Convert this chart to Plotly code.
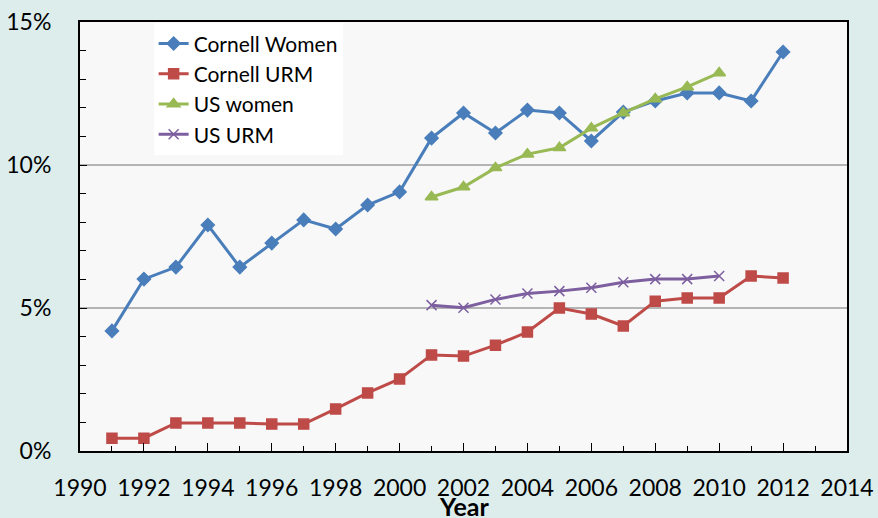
import plotly.graph_objects as go

years = list(range(1991, 2013))
cornell_women = [4.2, 6.01, 6.43, 7.9, 6.43, 7.27, 8.08, 7.76, 8.6, 9.06, 10.94,
                 11.82, 11.12, 11.92, 11.82, 10.84, 11.85, 12.24, 12.52, 12.52, 12.24, 13.95]
cornell_urm = [0.45, 0.45, 0.98, 0.98, 0.98, 0.94, 0.94, 1.47, 2.03, 2.52, 3.36,
               3.32, 3.7, 4.16, 5.0, 4.79, 4.37, 5.24, 5.35, 5.35, 6.12, 6.05]
us_years = list(range(2001, 2011))
us_women = [8.88, 9.23, 9.9, 10.38, 10.6, 11.29, 11.82, 12.31, 12.73, 13.22]
us_urm = [5.1, 5.01, 5.3, 5.51, 5.59, 5.71, 5.9, 6.01, 6.01, 6.12]

FONT = 'Lato, Calibri, "Open Sans", sans-serif'

series = [
    ('Cornell Women', years, cornell_women, '#4a7ebb', 'diamond', 10),
    ('Cornell URM', years, cornell_urm, '#be4b48', 'square', 10),
    ('US women', us_years, us_women, '#98b954', 'triangle-up', 11),
    ('US URM', us_years, us_urm, '#7d5fa0', 'x-thin-open', 10),
]

fig = go.Figure()
for name, x, y, color, symbol, size in series:
    fig.add_trace(go.Scatter(
        x=x, y=y, name=name, mode='lines+markers',
        legendgroup=name,
        line=dict(color=color, width=3),
        marker=dict(symbol=symbol, size=size, color=color,
                    line=dict(color=color, width=1.5)),
    ))

fig.update_layout(
    width=878, height=518,
    margin=dict(l=80, r=31, t=22, b=67),
    paper_bgcolor='#dcedec',
    plot_bgcolor='#f8f8f8',
    font=dict(family=FONT, size=23, color='black'),
    showlegend=True,
    legend=dict(
        x=0.096, y=0.997, xanchor='left', yanchor='top',
        bgcolor='white', font=dict(size=21),
        tracegroupgap=0, itemwidth=30,
    ),
    xaxis=dict(
        range=[1990, 2014], dtick=2, tick0=1990,
        ticks='inside', ticklen=8, tickcolor='black', tickwidth=1,
        minor=dict(ticks='inside', dtick=1, ticklen=5, tickcolor='black'),
        showgrid=False, zeroline=False,
        showline=True, linecolor='black', linewidth=2, mirror=True,
        ticklabelstandoff=15, automargin=False,
    ),
    yaxis=dict(
        range=[0, 15], dtick=5, ticksuffix='%',
        ticks='inside', ticklen=7, tickcolor='black',
        minor=dict(ticks='inside', dtick=1, ticklen=6, tickcolor='black'),
        showgrid=True, gridcolor='#b4b4b4', gridwidth=1.5,
        zeroline=False,
        showline=True, linecolor='black', linewidth=2, mirror=True,
        ticklabelstandoff=22, automargin=False,
    ),
    # axis title as annotation so it sits right under the tick labels
    annotations=[dict(
        text='<b>Year</b>', xref='paper', yref='paper',
        x=0.5, y=-0.128, xanchor='center', yanchor='middle',
        showarrow=False, font=dict(size=25),
    )],
)

# page has a default 8px body margin, drop it so the figure fills the window
fig.write_html('out.html', config={'displayModeBar': False},
               post_script="document.body.style.margin='0';")
